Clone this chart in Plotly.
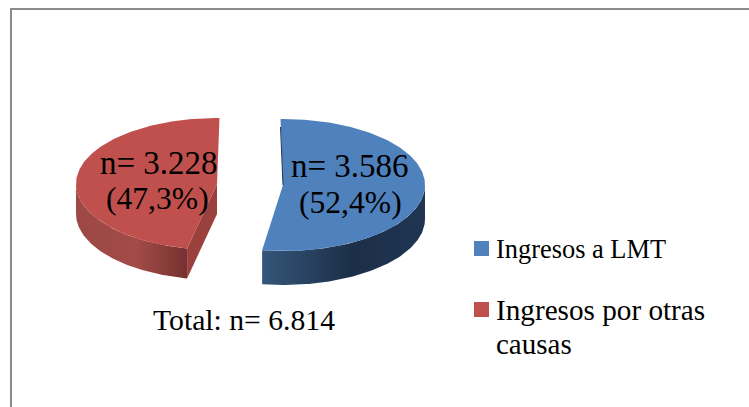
import numpy as np
import plotly.graph_objects as go

# Chart data
categories = ["Ingresos a LMT", "Ingresos por otras causas"]
counts = [3586, 3228]
data_labels = [["n= 3.586", "(52,4%)"], ["n= 3.228", "(47,3%)"]]
total_label = "Total: n= 6.814"
legend_lines = [["Ingresos a LMT"], ["Ingresos por otras", "causas"]]

# Palette
top_colors = ["#4f81bd", "#c0504d"]
wall_scales = [
    [[0, "#345679"], [0.55, "#1c2f49"], [1, "#1f3552"]],
    [[0, "#9d4845"], [0.55, "#a24b47"], [1, "#763130"]],
]
inner_colors = ["#1f3552", "#9a413e"]

# Exploded slice placement on the 749x407 canvas
centers = [(283, 185), (217, 184)]
radii = [(142, 66), (141, 66)]
depths = [34, 30]
slice_turn = [-1.0, 1.0]
front_skew = [0.0, 1.8]

fractions = np.array(counts) / sum(counts)
edges = np.concatenate([[0], np.cumsum(fractions)]) * 360


def warped(theta, skew):
    # Foreshortening of the view pushes the front of a slice sideways
    return theta + skew * (1 - np.cos(np.radians(theta))) / 2


def rim(theta, center, radius):
    t = np.radians(theta)
    return center[0] + radius[0] * np.sin(t), center[1] - radius[1] * np.cos(t)


fig = go.Figure()

for i in range(2):
    c, r, d = centers[i], radii[i], depths[i]
    sweep = np.linspace(edges[i], edges[i + 1], 181) + slice_turn[i]
    theta = warped(sweep, front_skew[i])
    x, y = rim(theta, c, r)

    # Radial cut face on the side turned towards the viewer
    if i == 1:
        fx = [c[0], x[0], x[0], c[0], c[0]]
        fy = [c[1], y[0], y[0] + d, c[1] + d, c[1]]
        fig.add_trace(go.Scatter(x=fx, y=fy, mode="lines", line_width=0, fill="toself",
                                 fillcolor=inner_colors[i], hoverinfo="skip"))

    # Outer wall: only the part of the rim on the near side is visible
    near = np.cos(np.radians(theta)) <= 0.02
    wx, wy = x[near], y[near]
    fig.add_trace(go.Scatter(
        x=np.concatenate([wx, wx[::-1], wx[:1]]),
        y=np.concatenate([wy, wy[::-1] + d, wy[:1]]),
        mode="lines", line_width=0, fill="toself",
        fillgradient=dict(type="horizontal", colorscale=wall_scales[i],
                          start=float(wx.min()), stop=float(wx.max())),
        hoverinfo="skip",
    ))

    # Top face
    fig.add_trace(go.Scatter(
        x=np.concatenate([[c[0]], x, [c[0]]]),
        y=np.concatenate([[c[1]], y, [c[1]]]),
        mode="lines", line_width=0, fill="toself", fillcolor=top_colors[i], hoverinfo="skip",
    ))

    # Thin sliver of the far cut face on the blue slice
    if i == 0:
        fig.add_trace(go.Scatter(x=[x[0], c[0]], y=[y[0] + 8, c[1]], mode="lines",
                                 line=dict(color=inner_colors[0], width=1), hoverinfo="skip"))

serif = "Liberation Serif"
annotations = []


def put(text, x, y, size, anchor="center"):
    annotations.append(dict(text=text, x=x, y=y, xref="x", yref="y", showarrow=False,
                            xanchor=anchor, yanchor="middle",
                            font=dict(family=serif, size=size, color="#000000")))


put(data_labels[0][0], 350, 166, 33)
put(data_labels[0][1], 350, 202, 31.6)
put(data_labels[1][0], 159, 163, 33)
put(data_labels[1][1], 157, 198, 31.6)
put(total_label, 244, 320, 29.7)
put(legend_lines[0][0], 494, 249, 26.4, "left")
put(legend_lines[1][0], 494, 310, 29.2, "left")
put(legend_lines[1][1], 494, 344, 29, "left")

shapes = [
    dict(type="line", xref="x", yref="y", x0=11, x1=11, y0=9, y1=407, line=dict(color="#8c8c8c", width=2)),
    dict(type="line", xref="x", yref="y", x0=10, x1=749, y0=9, y1=9, line=dict(color="#8c8c8c", width=2)),
    dict(type="rect", xref="x", yref="y", x0=474, x1=489, y0=241, y1=256, fillcolor=top_colors[0], line_width=0),
    dict(type="rect", xref="x", yref="y", x0=474, x1=489, y0=302, y1=317, fillcolor=top_colors[1], line_width=0),
]

fig.update_layout(
    width=749, height=407, margin=dict(l=0, r=0, t=0, b=0),
    paper_bgcolor="#ffffff", plot_bgcolor="#ffffff", showlegend=False,
    xaxis=dict(range=[0, 749], visible=False, fixedrange=True),
    yaxis=dict(range=[407, 0], visible=False, fixedrange=True),
    annotations=annotations, shapes=shapes,
)

fig.write_html("out.html")
